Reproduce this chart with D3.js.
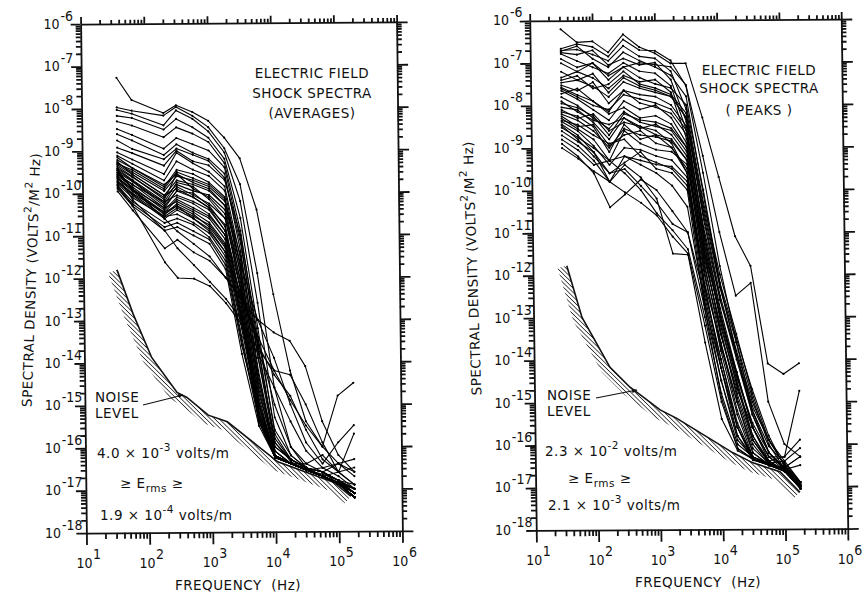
<!DOCTYPE html>
<html>
<head>
<meta charset="utf-8">
<style>
body { margin: 0; background: #fff; }
svg { display: block; }
.axis path, .axis line { fill: none; stroke: #111; stroke-width: 1.8; }
.spec { fill: none; stroke: #000; stroke-width: 1.1; stroke-linejoin: round; }
.dot { fill: #000; }
.noise { fill: none; stroke: #111; stroke-width: 1.6; }
.lbl { fill: #111; font-family: "DejaVu Sans", sans-serif; font-size: 13.5px; letter-spacing: 0.5px; white-space: pre; }
.tick { fill: #111; font-family: "Liberation Sans Narrow", "DejaVu Sans Condensed", "Liberation Sans", sans-serif; font-size: 14px; }
</style>
</head>
<body>
<script src="https://cdn.jsdelivr.net/npm/d3@7"></script>
<script>

// channel frequencies (Hz)
var avgFreqs = [36, 62, 196, 311, 562, 1000, 1780, 3110, 5620, 10000, 17800, 31100, 56200, 100000, 178000];
var peakFreqs = [31.1, 56.2, 100, 178, 311, 562, 1000, 1780, 3110, 5620, 10000, 17800, 31100, 56200, 100000, 178000];

// noise level curves (log10 of V^2/m^2 Hz)
var avgNoiseFreqs = [34, 60, 116, 288, 412, 890, 1780, 11000, 83000, 155000];
var avgNoise = [-11.8, -12.84, -13.87, -14.7, -14.82, -15.24, -15.4, -16.35, -16.84, -17.17];
var peakNoiseFreqs = [35, 60, 165, 342, 550, 1030, 1900, 14900, 31000, 84000, 174000];
var peakNoise = [-11.77, -12.99, -14.17, -14.64, -14.87, -15.18, -15.38, -16.2, -16.44, -16.65, -17.14];

var xTickExps = [1, 2, 3, 4, 5, 6];
var yTickExps = [-6, -7, -8, -9, -10, -11, -12, -13, -14, -15, -16, -17, -18];

// averages panel, log10 spectral density per channel
var avgSpectra = [
  [-7.27,-7.80,-8.11,-7.93,-8.09,-8.30,-8.70,-9.19,-10.40,-12.40,-14.20,-15.40,-16.00,-16.40,-16.70],
  [-7.97,-8.05,-8.17,-7.97,-8.18,-8.45,-8.95,-9.80,-11.90,-14.60,-16.00,-16.40,-16.60,-16.80,-17.10],
  [-8.03,-8.12,-8.40,-8.05,-8.25,-8.55,-9.05,-10.20,-12.60,-15.30,-16.20,-16.50,-16.70,-16.88,-17.20],
  [-8.17,-8.22,-8.50,-8.25,-8.45,-8.70,-9.20,-10.60,-13.20,-15.70,-16.30,-16.50,-16.60,-16.80,-17.00],
  [-8.30,-8.40,-8.68,-8.45,-8.60,-8.80,-9.30,-10.90,-13.60,-15.90,-16.35,-16.55,-16.70,-16.85,-17.10],
  [-8.48,-8.62,-8.95,-8.70,-8.85,-9.00,-9.40,-11.10,-13.90,-16.00,-16.30,-16.50,-16.70,-16.88,-17.20],
  [-8.60,-8.75,-9.10,-8.85,-9.05,-9.20,-9.55,-11.40,-14.20,-16.10,-16.40,-16.55,-16.70,-16.60,-16.50],
  [-8.92,-9.05,-9.35,-9.00,-9.25,-9.35,-9.70,-11.00,-13.40,-15.60,-16.20,-16.50,-16.70,-16.88,-17.10],
  [-9.03,-9.20,-9.55,-9.05,-9.30,-9.50,-9.85,-11.60,-14.30,-16.20,-16.40,-16.55,-16.70,-16.88,-17.20],
  [-9.11,-9.30,-9.70,-9.25,-9.45,-9.60,-9.95,-11.80,-14.60,-16.20,-16.40,-16.55,-16.70,-16.85,-17.10],
  [-9.21,-9.40,-9.85,-9.45,-9.55,-9.75,-10.10,-12.00,-14.80,-16.25,-16.40,-16.55,-16.70,-16.88,-17.20],
  [-9.28,-9.50,-9.95,-9.60,-9.70,-9.85,-10.20,-11.50,-13.90,-15.80,-16.30,-16.50,-16.60,-16.80,-16.90],
  [-9.32,-9.55,-10.05,-9.70,-9.80,-9.95,-10.30,-12.20,-15.00,-16.20,-16.40,-16.55,-16.70,-16.88,-17.00],
  [-9.36,-9.60,-10.15,-9.55,-9.90,-10.10,-10.50,-11.90,-14.40,-16.00,-16.30,-16.50,-16.60,-16.88,-17.10],
  [-9.40,-9.62,-10.10,-9.80,-9.95,-10.05,-10.40,-12.40,-15.20,-16.25,-16.40,-16.55,-16.70,-16.88,-17.20],
  [-9.45,-9.70,-10.25,-9.85,-10.05,-10.25,-10.60,-12.10,-14.70,-16.10,-16.40,-16.55,-16.70,-16.88,-17.20],
  [-9.50,-9.72,-10.30,-9.95,-10.00,-10.30,-10.80,-12.60,-15.30,-16.25,-16.40,-16.55,-16.50,-16.40,-16.60],
  [-9.54,-9.80,-10.20,-10.05,-10.20,-10.40,-10.90,-12.80,-15.40,-16.25,-16.40,-16.55,-16.70,-16.88,-17.20],
  [-9.58,-9.85,-10.40,-10.10,-10.25,-10.50,-11.00,-12.50,-15.00,-16.20,-16.40,-16.55,-16.70,-16.85,-17.00],
  [-9.62,-9.90,-10.35,-10.20,-10.40,-10.60,-11.10,-13.00,-15.40,-16.25,-16.40,-16.55,-16.70,-16.88,-17.10],
  [-9.66,-9.95,-10.50,-10.25,-10.45,-10.70,-11.20,-12.90,-15.30,-16.25,-16.40,-16.40,-16.20,-16.60,-16.90],
  [-9.70,-10.00,-10.45,-10.30,-10.50,-10.80,-11.30,-13.10,-15.00,-16.25,-16.40,-16.55,-16.70,-16.88,-17.20],
  [-9.74,-10.05,-10.60,-10.40,-10.60,-10.85,-11.40,-13.20,-15.20,-16.20,-16.40,-16.55,-16.70,-16.88,-17.10],
  [-9.78,-10.10,-10.55,-10.50,-10.70,-10.95,-11.50,-13.40,-15.30,-16.25,-16.40,-16.55,-16.70,-16.88,-17.20],
  [-9.82,-10.20,-10.70,-10.60,-10.75,-11.05,-11.60,-13.50,-15.40,-16.25,-16.40,-16.55,-16.70,-16.88,-17.20],
  [-9.86,-10.25,-10.80,-10.70,-10.90,-11.10,-11.70,-13.60,-15.20,-16.20,-16.40,-16.55,-16.65,-16.80,-17.10],
  [-9.89,-10.30,-10.88,-10.80,-11.00,-11.20,-11.80,-13.80,-15.50,-16.25,-16.40,-16.55,-16.70,-16.88,-17.20],
  [-9.95,-10.40,-11.30,-11.10,-11.40,-11.60,-12.00,-12.50,-13.50,-15.00,-16.00,-16.50,-16.70,-16.88,-17.10],
  [-9.80,-10.30,-11.63,-12.00,-12.02,-12.20,-12.60,-13.10,-13.80,-14.60,-15.40,-16.10,-16.50,-16.70,-17.00],
  [-9.60,-10.15,-10.88,-11.30,-11.70,-12.10,-12.50,-13.00,-13.70,-14.20,-14.30,-15.00,-15.90,-16.60,-16.90],
  [-9.45,-9.90,-10.60,-10.90,-11.20,-11.50,-12.00,-12.50,-13.00,-13.30,-13.50,-14.10,-15.40,-16.20,-16.60],
  [-9.50,-9.90,-10.50,-10.30,-10.60,-10.90,-11.40,-12.40,-13.40,-14.20,-14.90,-15.50,-16.00,-14.80,-14.50],
  [-9.25,-9.55,-10.05,-9.90,-10.10,-10.35,-10.90,-12.30,-13.60,-14.30,-14.80,-15.60,-16.30,-16.60,-15.70],
  [-9.15,-9.40,-9.80,-9.55,-9.75,-9.90,-10.30,-11.70,-13.00,-13.90,-15.00,-15.90,-16.40,-15.90,-15.50],
  [-9.30,-9.45,-9.90,-9.50,-9.65,-9.80,-10.15,-11.80,-14.50,-16.10,-16.40,-16.55,-16.70,-16.88,-17.10],
  [-9.42,-9.68,-10.20,-9.75,-9.85,-10.15,-10.60,-12.30,-14.90,-16.20,-16.40,-16.55,-16.70,-16.88,-17.20],
  [-9.55,-9.78,-10.35,-9.95,-10.10,-10.35,-10.75,-12.70,-15.10,-16.25,-16.40,-16.55,-16.70,-16.85,-17.00],
  [-9.64,-9.92,-10.45,-10.15,-10.35,-10.55,-11.00,-12.90,-15.20,-16.25,-16.40,-16.50,-16.60,-16.40,-16.30],
  [-9.72,-10.02,-10.55,-10.35,-10.55,-10.75,-11.25,-13.00,-15.00,-16.20,-16.40,-16.55,-16.70,-16.88,-17.10],
  [-8.75,-8.95,-9.20,-8.95,-9.10,-9.25,-9.65,-11.20,-13.70,-15.90,-16.30,-16.50,-16.60,-16.80,-17.00]
];

// peaks panel, log10 spectral density per channel
var peakSpectra = [
  [-6.20,-6.51,-6.49,-6.75,-6.33,-6.63,-6.78,-7.02,-7.02,-8.30,-9.70,-11.10,-11.80,-14.10,-14.35,-14.10],
  [-6.66,-6.55,-6.62,-6.85,-6.45,-6.70,-6.72,-6.95,-7.55,-9.60,-11.80,-13.60,-15.20,-16.05,-16.45,-16.90],
  [-6.70,-6.68,-6.80,-6.95,-6.60,-6.85,-6.90,-7.20,-8.10,-10.30,-12.00,-13.40,-14.80,-15.90,-16.50,-17.00],
  [-6.75,-6.80,-6.70,-7.05,-6.90,-7.05,-7.00,-7.40,-8.40,-10.60,-12.50,-13.90,-15.30,-16.20,-16.60,-17.05],
  [-6.78,-6.95,-7.10,-7.25,-7.00,-7.20,-7.25,-7.55,-8.60,-11.00,-12.80,-14.30,-15.60,-16.30,-16.62,-16.95],
  [-6.90,-7.10,-7.00,-7.40,-7.10,-7.00,-7.05,-7.10,-7.53,-9.20,-11.00,-12.50,-12.20,-15.00,-16.00,-16.30],
  [-7.00,-7.20,-7.35,-7.60,-7.30,-7.45,-7.40,-7.70,-8.80,-11.30,-13.00,-14.50,-15.80,-16.40,-16.65,-17.05],
  [-7.34,-7.20,-7.00,-7.30,-7.10,-7.35,-7.50,-7.60,-8.00,-10.00,-12.20,-13.90,-15.10,-15.90,-16.40,-16.90],
  [-7.46,-7.40,-7.55,-7.80,-7.45,-7.60,-7.70,-7.80,-8.30,-10.50,-12.30,-13.60,-14.90,-16.00,-16.60,-17.00],
  [-7.52,-7.65,-7.45,-7.95,-7.65,-7.75,-7.80,-8.00,-8.50,-11.00,-12.90,-14.40,-15.60,-16.30,-16.55,-16.30],
  [-7.57,-7.75,-7.90,-8.15,-7.65,-7.95,-8.05,-8.20,-8.70,-11.20,-13.10,-14.60,-15.90,-16.45,-16.62,-17.05],
  [-7.65,-7.85,-8.10,-8.35,-7.90,-8.10,-8.00,-8.30,-8.90,-11.50,-13.30,-14.90,-16.00,-16.48,-16.64,-17.00],
  [-7.72,-7.60,-7.90,-8.20,-8.05,-8.30,-8.25,-8.45,-9.00,-11.10,-13.00,-14.40,-15.50,-16.20,-16.55,-16.90],
  [-7.80,-8.00,-8.30,-8.55,-8.15,-8.40,-8.50,-8.60,-9.10,-11.70,-13.60,-15.20,-16.20,-16.50,-16.65,-17.05],
  [-8.04,-8.10,-8.40,-8.80,-8.30,-8.55,-8.45,-8.70,-9.20,-11.60,-13.20,-14.60,-15.80,-16.45,-16.60,-16.95],
  [-8.20,-8.35,-8.60,-9.00,-8.55,-8.70,-8.75,-8.85,-9.30,-11.90,-13.80,-15.30,-16.30,-16.50,-16.63,-17.05],
  [-8.25,-8.50,-8.45,-8.95,-8.70,-8.60,-8.90,-9.00,-9.50,-12.20,-14.20,-15.80,-16.38,-16.48,-16.62,-17.00],
  [-8.30,-8.55,-8.80,-9.30,-8.60,-8.90,-9.05,-9.10,-9.40,-11.40,-13.40,-14.70,-15.60,-16.30,-16.30,-15.90],
  [-8.38,-8.60,-8.95,-9.40,-9.00,-9.05,-9.20,-9.30,-9.70,-12.40,-14.00,-15.50,-16.30,-16.48,-16.64,-17.05],
  [-8.44,-8.70,-9.10,-9.80,-9.20,-9.30,-9.40,-9.45,-9.80,-12.60,-14.50,-15.90,-16.30,-16.45,-16.60,-16.95],
  [-8.47,-8.80,-9.20,-9.60,-9.35,-9.10,-9.50,-9.60,-10.00,-12.80,-14.90,-16.10,-16.35,-16.50,-16.62,-17.05],
  [-8.10,-8.30,-8.20,-8.60,-8.40,-8.50,-8.60,-8.90,-9.60,-12.00,-13.70,-15.00,-16.10,-16.45,-16.40,-16.10],
  [-8.90,-9.20,-9.60,-10.40,-10.10,-9.75,-10.00,-10.50,-11.00,-12.80,-14.50,-15.80,-16.30,-16.48,-16.62,-17.00],
  [-9.00,-9.25,-9.55,-9.80,-10.05,-10.30,-10.60,-11.10,-11.50,-13.20,-15.00,-16.10,-16.36,-16.50,-16.64,-16.90],
  [-8.70,-8.95,-9.30,-9.80,-9.40,-9.70,-10.20,-11.50,-11.53,-13.60,-15.40,-16.15,-16.35,-16.48,-16.60,-17.00],
  [-8.80,-9.05,-9.40,-9.30,-9.60,-10.00,-10.55,-10.95,-11.40,-13.00,-14.80,-16.00,-16.30,-16.45,-16.60,-16.50],
  [-8.60,-8.85,-9.10,-9.60,-9.50,-9.90,-10.30,-10.80,-11.00,-12.50,-14.20,-15.60,-16.30,-16.48,-16.63,-17.05],
  [-6.72,-6.60,-6.90,-7.10,-6.75,-6.95,-7.10,-7.30,-7.80,-10.10,-12.30,-13.80,-15.00,-15.90,-16.50,-16.90],
  [-7.40,-7.30,-7.60,-7.50,-7.20,-7.50,-7.60,-7.75,-8.20,-10.40,-12.20,-13.50,-14.70,-15.80,-16.55,-17.00],
  [-7.60,-7.80,-8.00,-8.10,-7.75,-7.85,-7.95,-8.10,-8.60,-10.90,-12.60,-14.00,-15.30,-16.20,-16.60,-17.05],
  [-8.15,-8.25,-8.50,-9.10,-8.45,-8.80,-8.70,-9.00,-9.60,-12.30,-14.00,-15.60,-16.36,-16.50,-16.55,-16.30],
  [-8.35,-8.45,-8.70,-8.90,-8.80,-9.20,-9.35,-9.50,-9.90,-12.20,-13.60,-15.00,-16.20,-16.48,-16.64,-17.05],
  [-7.95,-8.05,-8.25,-8.70,-8.20,-8.35,-8.40,-8.55,-9.00,-11.40,-13.00,-14.30,-15.60,-16.40,-16.62,-17.00],
  [-7.20,-7.40,-7.25,-7.70,-7.35,-7.55,-7.65,-7.80,-8.30,-10.70,-12.60,-13.90,-15.20,-16.20,-16.60,-16.95],
  [-8.52,-8.75,-9.00,-9.30,-9.20,-9.40,-9.60,-9.90,-10.40,-12.70,-14.20,-15.60,-16.36,-16.50,-16.63,-17.05],
  [-7.90,-8.15,-8.35,-8.45,-8.30,-8.50,-8.70,-8.80,-9.30,-11.80,-13.40,-14.80,-15.90,-16.40,-16.30,-14.75]
];

var svg = d3.select("body").append("svg").attr("width", 862).attr("height", 592);

var defs = svg.append("defs");
defs.append("pattern")
  .attr("id", "hatch")
  .attr("patternUnits", "userSpaceOnUse")
  .attr("width", 3.1).attr("height", 3.1)
  .attr("patternTransform", "rotate(-45)")
  .append("line")
  .attr("x1", 0).attr("y1", 0).attr("x2", 0).attr("y2", 3.1)
  .attr("stroke", "#111").attr("stroke-width", 1.4);
defs.append("marker")
  .attr("id", "arrow").attr("viewBox", "0 0 10 10")
  .attr("refX", 9).attr("refY", 5)
  .attr("markerWidth", 5).attr("markerHeight", 5)
  .attr("orient", "auto")
  .append("path").attr("d", "M0,1L10,5L0,9z").attr("fill", "#111");

// text with super/subscript pieces: parts = ["txt", ["2","sup"], ...]
function rich(x, y, parts, anchor, rot) {
  var t = svg.append("text").attr("class", "lbl").attr("x", x).attr("y", y)
    .attr("text-anchor", anchor || "start");
  if (rot) t.attr("transform", `rotate(${rot} ${x} ${y})`);
  var shift = 0;
  parts.forEach(pt => {
    var s = typeof pt === "string" ? [pt, null] : pt;
    var target = s[1] === "sup" ? -7 : s[1] === "sub" ? 4 : 0;
    var ts = t.append("tspan").attr("dy", target - shift).text(s[0]);
    if (s[1]) ts.attr("font-size", "10.5px");
    shift = target;
  });
  return t;
}

function drawPanel(p, freqs, spectra, noiseFreqs, noiseVals) {
  var cx = (p.x0 + p.x1) / 2, cy = (p.y0 + p.y1) / 2;
  var rr = p.rot * Math.PI / 180, sk = Math.tan(p.skew * Math.PI / 180);
  // same mapping as the svg transform, used to place labels outside the group
  var T = (px, py) => {
    var dx = px - cx + sk * (py - cy), dy = py - cy;
    return [cx + dx * Math.cos(rr) - dy * Math.sin(rr), cy + dx * Math.sin(rr) + dy * Math.cos(rr)];
  };
  var g = svg.append("g")
    .attr("transform", `translate(${cx},${cy}) rotate(${p.rot}) skewX(${p.skew}) translate(${-cx},${-cy})`);

  var x = d3.scaleLog().domain([1e1, 1e6]).range([p.x0, p.x1]);
  var y = d3.scaleLog().domain([1e-18, 1e-6]).range([p.y1, p.y0]);

  var majorX = xTickExps.map(e => Math.pow(10, e));
  var majorY = yTickExps.map(e => Math.pow(10, e));
  var minorX = [], minorY = [];
  d3.range(1, 6).forEach(d => d3.range(2, 10).forEach(m => minorX.push(m * Math.pow(10, d))));
  d3.range(-18, -6).forEach(d => d3.range(2, 10).forEach(m => minorY.push(m * Math.pow(10, d))));

  function axisPair(gen, scale, majors, minors, big, small, tr) {
    g.append("g").attr("class", "axis").attr("transform", tr)
      .call(gen(scale).tickValues(minors).tickSize(small).tickFormat(""))
      .select(".domain").remove();
    g.append("g").attr("class", "axis").attr("transform", tr)
      .call(gen(scale).tickValues(majors).tickSize(big).tickSizeOuter(0).tickFormat(""));
  }
  axisPair(d3.axisBottom, x, majorX, minorX, 12, 6, `translate(0,${p.y1})`);
  axisPair(d3.axisTop, x, majorX, minorX, 7, 4, `translate(0,${p.y0})`);
  axisPair(d3.axisLeft, y, majorY, minorY, 10, 5, `translate(${p.x0},0)`);
  axisPair(d3.axisRight, y, majorY, minorY, 11, 5, `translate(${p.x1},0)`);

  // noise level: solid edge with hatching on the low side
  var npts = noiseFreqs.map((f, i) => [x(f), y(Math.pow(10, noiseVals[i]))]);
  var off = npts.map((pt, i) => {
    var a = npts[Math.max(i - 1, 0)], b = npts[Math.min(i + 1, npts.length - 1)];
    var tx = b[0] - a[0], ty = b[1] - a[1], L = Math.hypot(tx, ty);
    return [pt[0] - ty / L * 9.5, pt[1] + tx / L * 9.5];
  });
  g.append("path")
    .attr("d", "M" + npts.join("L") + "L" + off.slice().reverse().join("L") + "Z")
    .attr("fill", "url(#hatch)");
  g.append("path").attr("class", "noise").attr("d", d3.line()(npts));

  // spectra
  var line = d3.line().x(d => x(d[0])).y(d => y(d[1]));
  g.selectAll(".spec").data(spectra).enter().append("path")
    .attr("class", "spec")
    .attr("d", s => line(s.map((v, i) => [freqs[i], Math.pow(10, v)])));
  spectra.forEach(s => {
    g.append("g").selectAll("circle").data(s).enter().append("circle")
      .attr("class", "dot")
      .attr("cx", (v, i) => x(freqs[i]))
      .attr("cy", v => y(Math.pow(10, v)))
      .attr("r", 1.1);
  });

  // tick labels
  xTickExps.forEach(e => {
    var q = T(x(Math.pow(10, e)), p.y1);
    var base = svg.append("text").attr("class", "tick").attr("x", q[0] - 2).attr("y", q[1] + 35)
      .attr("text-anchor", "middle").text("10");
    var w = base.node().getComputedTextLength();
    svg.append("text").attr("class", "tick").attr("x", q[0] - 2 + w / 2 + 0.5).attr("y", q[1] + 26)
      .attr("font-size", "11px").text(e);
  });
  yTickExps.forEach((e, i) => {
    var q = T(p.x0, y(Math.pow(10, e)));
    var lx = p.ylx + p.ylxDrift * i / (yTickExps.length - 1);
    var base = svg.append("text").attr("class", "tick").attr("x", lx).attr("y", q[1] + 4.5).text("10");
    var w = base.node().getComputedTextLength();
    svg.append("text").attr("class", "tick").attr("x", lx + w + 1).attr("y", q[1] - 3.5)
      .attr("font-size", "11px").text(e);
  });

  // labels
  p.title.forEach((t, i) => rich(p.titleX, p.titleY[i], [t], "middle"));
  rich(p.xlab[0], p.xlab[1], ["FREQUENCY  (Hz)"], "middle").attr("letter-spacing", "1px");
  rich(p.ylab[0], p.ylab[1], ["SPECTRAL DENSITY (VOLTS", ["2", "sup"], "/M", ["2", "sup"], " Hz)"], "middle", p.ylab[2])
    .attr("letter-spacing", "0.9px");
  rich(p.noise[0], p.noise[1], ["NOISE"]);
  rich(p.noise[0], p.noise[1] + 16, ["LEVEL"]);
  svg.append("line")
    .attr("x1", p.arrow[0]).attr("y1", p.arrow[1]).attr("x2", p.arrow[2]).attr("y2", p.arrow[3])
    .attr("stroke", "#111").attr("stroke-width", 1.1).attr("marker-end", "url(#arrow)");
  rich(p.erms[0][0], p.erms[0][1], [p.hi[0], ["" + p.hi[1], "sup"], " volts/m"]);
  rich(p.erms[1][0], p.erms[1][1], ["\u2265 E", ["rms", "sub"], " \u2265"]);
  rich(p.erms[2][0], p.erms[2][1], [p.lo[0], ["" + p.lo[1], "sup"], " volts/m"]);
}

drawPanel({
  x0: 83.5, x1: 399.5, y0: 23, y1: 532, rot: -0.4, skew: 0.25,
  ylx: 43.5, ylxDrift: 1.5,
  title: ["ELECTRIC FIELD", "SHOCK SPECTRA", "(AVERAGES)"], titleX: 312, titleY: [78, 98, 118],
  xlab: [238, 590], ylab: [36, 280, -88],
  noise: [95, 402], arrow: [143, 405, 183, 395],
  erms: [[97, 458], [120, 488], [100, 520]],
  hi: ["4.0 \u00d7 10", -3], lo: ["1.9 \u00d7 10", -4]
}, avgFreqs, avgSpectra, avgNoiseFreqs, avgNoise);

drawPanel({
  x0: 533, x1: 844.5, y0: 20, y1: 529.5, rot: -0.35, skew: 0.38,
  ylx: 493, ylxDrift: 2,
  title: ["ELECTRIC FIELD", "SHOCK SPECTRA", "( PEAKS )"], titleX: 759, titleY: [75, 93, 115],
  xlab: [698, 587], ylab: [477, 268, -92],
  noise: [547, 400], arrow: [596, 398, 637, 390],
  erms: [[545, 456], [568, 483], [548, 510]],
  hi: ["2.3 \u00d7 10", -2], lo: ["2.1 \u00d7 10", -3]
}, peakFreqs, peakSpectra, peakNoiseFreqs, peakNoise);

</script>
</body>
</html>
